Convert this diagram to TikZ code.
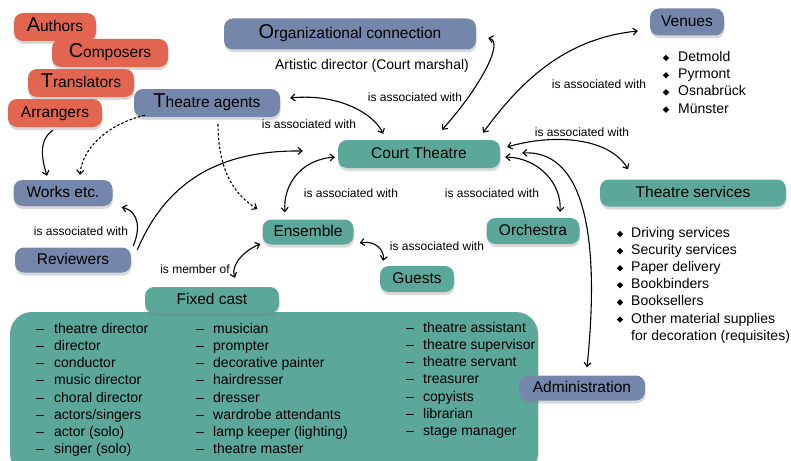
\documentclass[tikz,border=0pt]{standalone}
\usepackage{fontspec}
\setmainfont{Liberation Sans}
\usetikzlibrary{shadows,shapes.geometric,arrows.meta}
\definecolor{cred}{RGB}{226,101,80}
\definecolor{cblue}{RGB}{116,134,170}
\definecolor{cteal}{RGB}{91,167,153}
\newcommand{\nodefont}{\fontsize{15.5}{18}\selectfont}
\newcommand{\capletter}[1]{{\fontsize{20}{20}\selectfont #1}}
\tikzset{
  >={Straight Barb[length=4pt,width=7pt]},
  box/.style={rounded corners=9pt, inner sep=0pt, minimum height=28pt, font=\nodefont,
    text height=11pt, text depth=2.5pt,
    drop shadow={shadow xshift=0.5pt, shadow yshift=-3pt, opacity=0.3}},
  redbox/.style={box, fill=cred},
  bluebox/.style={box, fill=cblue},
  tealbox/.style={box, fill=cteal},
  conn/.style={line width=1.1pt},
  dconn/.style={line width=1.1pt, dash pattern=on 2.5pt off 2pt},
  lbl/.style={font=\fontsize{12}{14}\selectfont, inner sep=0pt},
  lst/.style={font=\fontsize{14}{17}\selectfont, inner sep=0pt, anchor=west, text height=10pt, text depth=3pt},
  bul/.style={diamond, fill=black, inner sep=0pt, minimum size=6.5pt},
}
\begin{document}
\begin{tikzpicture}[x=1pt,y=-1pt]
\useasboundingbox (0,0) rectangle (791,460);

% big fixed-cast box
\path[fill=cteal, rounded corners=22pt, drop shadow={shadow xshift=0.5pt, shadow yshift=-3pt, opacity=0.25}]
  (10,312) rectangle (538,475);

% red nodes
\node[redbox, minimum width=82pt] (authors) at (55,27) {\capletter{A}uthors};
\node[redbox, minimum width=116pt] (composers) at (110,53) {\capletter{C}omposers};
\node[redbox, minimum width=106pt] (translators) at (81,83) {\capletter{T}ranslators};
\node[redbox, minimum width=94pt] (arrangers) at (55,113) {Arrangers};

% blue nodes
\node[bluebox, minimum width=146pt] (agents) at (207,103) {\capletter{T}heatre agents};
\node[bluebox, minimum width=252pt, minimum height=31pt] (org) at (350,34) {\capletter{O}rganizational connection};
\node[bluebox, minimum width=74pt, minimum height=27pt] (venues) at (687,22) {Venues};
\node[bluebox, minimum width=99pt, minimum height=26pt] (works) at (63,193) {Works etc.};
\node[bluebox, minimum width=116pt, minimum height=25pt] (reviewers) at (73,260) {Reviewers};

% teal nodes
\node[tealbox, minimum width=162pt] (court) at (419,154) {Court Theatre};
\node[tealbox, minimum width=186pt, minimum height=27pt] (services) at (693,193) {Theatre services};
\node[tealbox, minimum width=91pt, minimum height=25pt] (ensemble) at (308,232) {Ensemble};
\node[tealbox, minimum width=93pt, minimum height=26pt] (orchestra) at (533,231) {Orchestra};
\node[tealbox, minimum width=74pt, minimum height=26pt] (guests) at (417,279) {Guests};
\node[tealbox, minimum width=134pt, minimum height=26pt] (fixedcast) at (212,300) {Fixed cast};
\node[bluebox, minimum width=126pt, minimum height=25pt] (admin) at (582,388) {Administration};

% texts
\node[lst, anchor=center, font=\fontsize{14}{17}\selectfont] (artistic) at (372,66) {Artistic director (Court marshal)};

% venue list
\foreach \t [count=\i from 0] in {Detmold, Pyrmont, Osnabrück, Münster}{
  \node[bul] (vb\i) at (666,{58+17.2*\i}) {};
  \node[lst] (vt\i) at (678,{58+17.2*\i}) {\t};
}
% services list
\foreach \t [count=\i from 0] in {Driving services, Security services, Paper delivery, Bookbinders, Booksellers, Other material supplies}{
  \node[bul] (sb\i) at (620,{234+17.1*\i}) {};
  \node[lst] (st\i) at (631,{234+17.1*\i}) {\t};
}
\node[lst] (st6) at (631,{234+17.1*6}) {for decoration (requisites)};

% fixed cast columns
\foreach \t [count=\i from 0] in {theatre director, director, conductor, music director, choral director, actors/singers, actor (solo), singer (solo)}{
  \node[lst] (ad\i) at (36,{330+17.15*\i}) {–};
  \node[lst] (at\i) at (54,{330+17.15*\i}) {\t};
}
\foreach \t [count=\i from 0] in {musician, prompter, decorative painter, hairdresser, dresser, wardrobe attendants, lamp keeper (lighting), theatre master}{
  \node[lst] (bd\i) at (196,{330+17.15*\i}) {–};
  \node[lst] (bt\i) at (213,{330+17.15*\i}) {\t};
}
\foreach \t [count=\i from 0] in {theatre assistant, theatre supervisor, theatre servant, treasurer, copyists, librarian, stage manager}{
  \node[lst] (cd\i) at (406,{329+17.15*\i}) {–};
  \node[lst] (ct\i) at (423,{329+17.15*\i}) {\t};
}

% connector labels
\node[lbl] (l1) at (415,97) {is associated with};
\node[lbl] (l2) at (309,124) {is associated with};
\node[lbl] (l3) at (599,84) {is associated with};
\node[lbl] (l4) at (582,132) {is associated with};
\node[lbl] (l5) at (351,193) {is associated with};
\node[lbl] (l6) at (492,193) {is associated with};
\node[lbl] (l7) at (437,246) {is associated with};
\node[lbl] (l8) at (81,231) {is associated with};
\node[lbl] (l9) at (195,269) {is member of};

% connectors
\draw[conn,<->] ([shift={(23,-10)}]court.north) .. controls (478,90) and (505,42) .. ([shift={(12,4)}]org.east);
\draw[conn,<->] ([shift={(10,-5)}]agents.east) .. controls (340,93) and (375,115) .. ([shift={(-36,-6)}]court.north);
\draw[conn,<->] ([shift={(64,-7)}]court.north) .. controls (525,75) and (570,38) .. ([shift={(-12,9)}]venues.west);
\draw[conn,<->] ([shift={(7,-7)}]court.east) .. controls (555,133) and (610,138) .. ([shift={(-65,-10)}]services.north);
\draw[conn,<->] ([shift={(5,3)}]court.east) .. controls (540,158) and (562,185) .. ([shift={(27,-6)}]orchestra.north);
\draw[conn,<->] ([shift={(22,-1)}]court.east) .. controls (578,150) and (602,220) .. ([shift={(5,-8)}]admin.north);
\draw[conn,<->] ([shift={(-3,3)}]court.west) .. controls (300,160) and (283,185) .. ([shift={(-23,-7)}]ensemble.north);
\draw[conn,->] ([shift={(6,-10)}]reviewers.east) .. controls (165,185) and (215,150) .. ([shift={(-35,-3)}]court.west);
\draw[conn,->] ([shift={(2,-14)}]reviewers.east) .. controls (140,230) and (140,212) .. ([shift={(9,1)}]works.south east);
\draw[conn,->] ([shift={(-2,3)}]arrangers.south) .. controls (38,140) and (42,160) .. ([shift={(-16,-4)}]works.north);
\draw[dconn,->] ([shift={(11,-2)}]agents.south west) .. controls (105,125) and (82,150) .. ([shift={(17,-5)}]works.north);
\draw[dconn,->] ([shift={(11,7)}]agents.south) .. controls (218,175) and (238,197) .. ([shift={(-5,-23)}]ensemble.west);
\draw[conn,<->] ([shift={(6,11)}]ensemble.east) .. controls (375,240) and (385,250) .. ([shift={(-34,-5)}]guests.north);
\draw[conn,<->] ([shift={(-2,12)}]ensemble.west) .. controls (245,250) and (230,265) .. ([shift={(23,-9)}]fixedcast.north);
\end{tikzpicture}
\end{document}
